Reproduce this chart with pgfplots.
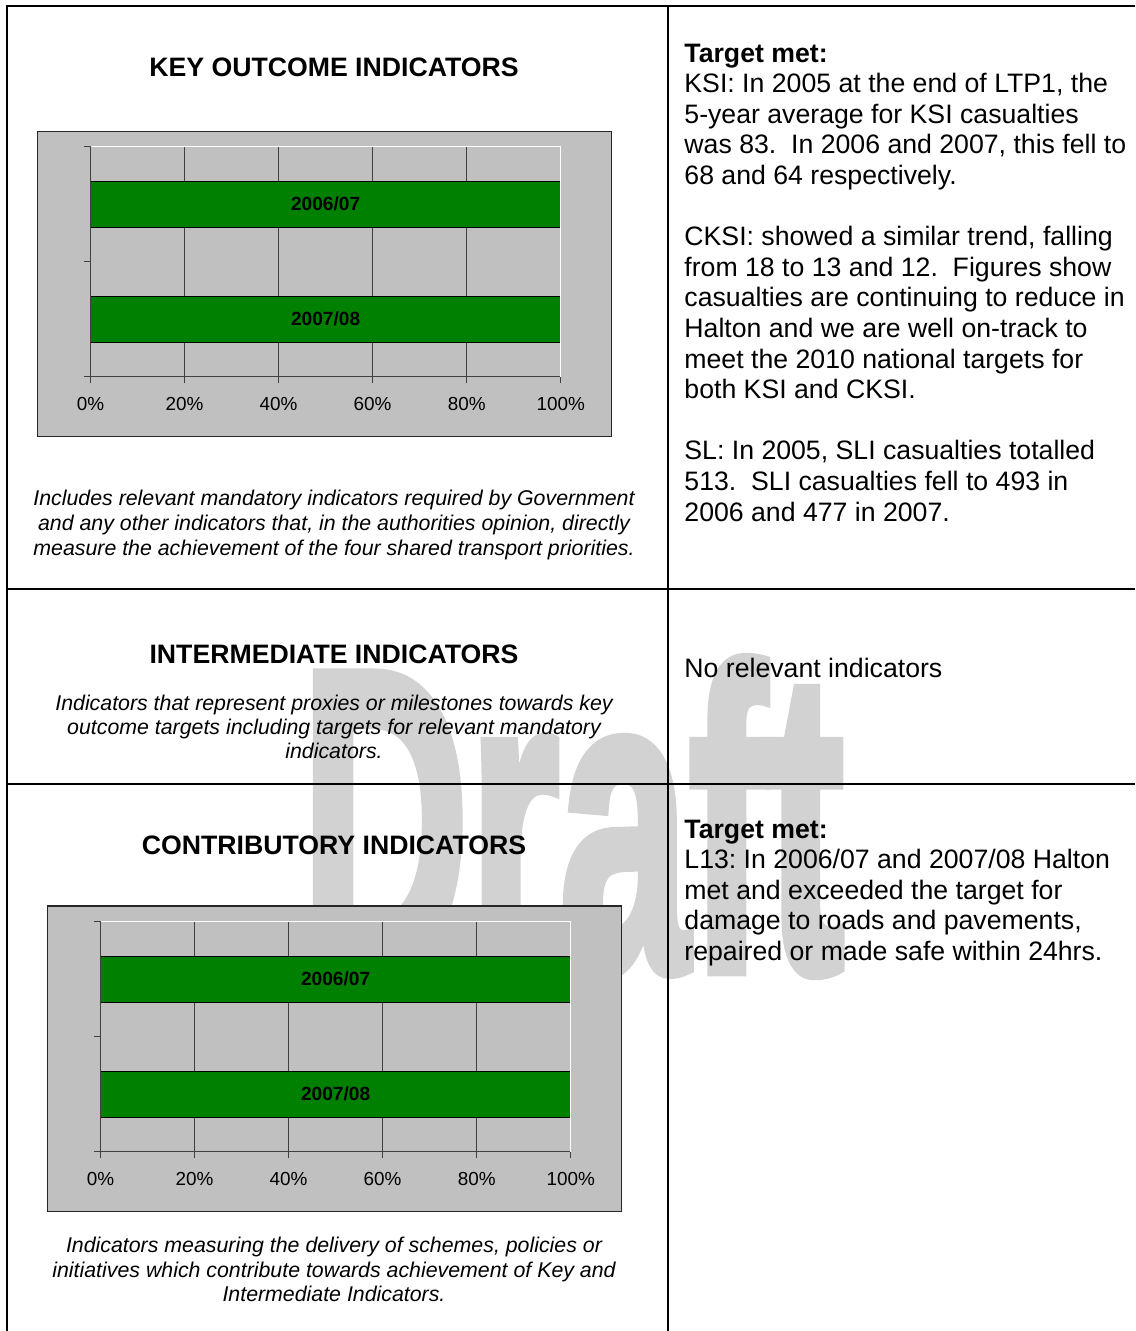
\documentclass[border=0pt]{standalone}
\usepackage{pgfplots}
\pgfplotsset{compat=1.18}
\usepackage{fontspec}
\setmainfont{Liberation Sans}
\newfontfamily\wmfont{Liberation Sans Bold}[FakeBold=3]
\frenchspacing

\definecolor{chartgray}{HTML}{C0C0C0}
\definecolor{bargreen}{HTML}{008000}
\definecolor{gridgray}{HTML}{404040}
\definecolor{wmgray}{HTML}{D2D2D2}

\newcommand{\bodyfont}{\fontsize{12}{13.8}\selectfont}
\newcommand{\capfont}{\itshape\fontsize{9.6}{11}\selectfont}
% one line of the right column, baseline at y
\newcommand{\rtext}[2]{\node[anchor=base west, inner sep=0, font=\bodyfont] at (684,#1) {#2};}
% one centred line of the left column
\newcommand{\ctext}[3]{\node[anchor=base, inner sep=0, font=#2] at (334,#1) {#3};}

\pgfplotsset{indchart/.style={
    scale only axis, width=211.6pt, height=103.5pt,
    anchor=south west,
    xmin=0, xmax=100, ymin=0, ymax=2,
    xtick={0,20,40,60,80,100},
    xticklabels={0\%,20\%,40\%,60\%,80\%,100\%},
    ytick={0,1,2}, yticklabels={,,},
    tick pos=left, tick align=outside, major tick length=3pt,
    tick style={gridgray, line width=0.5pt},
    xmajorgrids, major grid style={gridgray, line width=0.5pt},
    axis line style={draw=none},
    axis background/.style={fill=chartgray},
    clip=false,
    ticklabel style={font=\fontsize{8.5}{10}\selectfont},
    xticklabel style={anchor=base, yshift=-12pt},
}}

\begin{document}
\begin{tikzpicture}[x=0.45pt, y=-0.45pt]
\useasboundingbox (0,0) rectangle (1135,1331);

% watermark
\node[anchor=base west, inner sep=0, xscale=0.543, text=wmgray,
      font=\wmfont\fontsize{193}{193}\selectfont] at (300.5,970) {Draft};

% table rules
\draw[line width=0.9pt] (7,1331) -- (7,6) -- (1135,6);
\draw[line width=0.9pt] (668,6) -- (668,1331);
\draw[line width=0.9pt] (7,589) -- (1135,589);
\draw[line width=0.9pt] (7,784) -- (1135,784);

% chart areas
\filldraw[fill=chartgray, draw=black!85, line width=0.6pt] (37.7,131.7) rectangle (611.7,436.7);
\filldraw[fill=chartgray, draw=black!85, line width=0.6pt] (47.7,906) rectangle (621.7,1211.7);
\coordinate (A1) at (90.5,376.7);
\coordinate (A2) at (100.5,1151.7);

\begin{axis}[indchart, at={(A1)}]
\addplot[xbar, bar width=0.4, fill=bargreen, draw=black, line width=0.6pt,
    nodes near coords, point meta=explicit symbolic,
    every node near coord/.style={anchor=center, xshift=-105.8pt, text=black,
        font=\bfseries\fontsize{8.6}{10}\selectfont}]
    table[x=x, y=y, meta=label] {
x y label
100 1.5 2006/07
100 0.5 2007/08
};
\draw[gridgray, line width=0.6pt] (rel axis cs:0,1) -- (rel axis cs:0,0) -- (rel axis cs:1,0);
\draw[white, line width=0.6pt] (rel axis cs:0,1) -- (rel axis cs:1,1) -- (rel axis cs:1,0);
\end{axis}

\begin{axis}[indchart, at={(A2)}]
\addplot[xbar, bar width=0.4, fill=bargreen, draw=black, line width=0.6pt,
    nodes near coords, point meta=explicit symbolic,
    every node near coord/.style={anchor=center, xshift=-105.8pt, text=black,
        font=\bfseries\fontsize{8.6}{10}\selectfont}]
    table[x=x, y=y, meta=label] {
x y label
100 1.5 2006/07
100 0.5 2007/08
};
\draw[gridgray, line width=0.6pt] (rel axis cs:0,1) -- (rel axis cs:0,0) -- (rel axis cs:1,0);
\draw[white, line width=0.6pt] (rel axis cs:0,1) -- (rel axis cs:1,1) -- (rel axis cs:1,0);
\end{axis}

% left column
\ctext{76.5}{\bfseries\bodyfont}{KEY OUTCOME INDICATORS}
\ctext{505}{\capfont}{Includes relevant mandatory indicators required by Government}
\ctext{530}{\capfont}{and any other indicators that, in the authorities opinion, directly}
\ctext{555}{\capfont}{measure the achievement of the four shared transport priorities.}

\ctext{663.5}{\bfseries\bodyfont}{INTERMEDIATE INDICATORS}
\ctext{710}{\capfont}{Indicators that represent proxies or milestones towards key}
\ctext{734}{\capfont}{outcome targets including targets for relevant mandatory}
\ctext{758}{\capfont}{indicators.}

\ctext{854}{\bfseries\bodyfont}{CONTRIBUTORY INDICATORS}
\ctext{1252.5}{\capfont}{Indicators measuring the delivery of schemes, policies or}
\ctext{1277}{\capfont}{initiatives which contribute towards achievement of Key and}
\ctext{1301.5}{\capfont}{Intermediate Indicators.}

% right column
\rtext{62}{\bfseries Target met:}
\rtext{92.6}{KSI: In 2005 at the end of LTP1, the}
\rtext{123.2}{5-year average for KSI casualties}
\rtext{153.8}{was 83.\ \ In 2006 and 2007, this fell to}
\rtext{184.4}{68 and 64 respectively.}
\rtext{245.6}{CKSI: showed a similar trend, falling}
\rtext{276.2}{from 18 to 13 and 12.\ \ Figures show}
\rtext{306.8}{casualties are continuing to reduce in}
\rtext{337.4}{Halton and we are well on-track to}
\rtext{368}{meet the 2010 national targets for}
\rtext{398.6}{both KSI and CKSI.}
\rtext{459.8}{SL: In 2005, SLI casualties totalled}
\rtext{490.4}{513.\ \ SLI casualties fell to 493 in}
\rtext{521}{2006 and 477 in 2007.}

\rtext{677}{No relevant indicators}

\rtext{838}{\bfseries Target met:}
\rtext{868.6}{L13: In 2006/07 and 2007/08 Halton}
\rtext{899.2}{met and exceeded the target for}
\rtext{929.8}{damage to roads and pavements,}
\rtext{960.4}{repaired or made safe within 24hrs.}
\end{tikzpicture}
\end{document}
